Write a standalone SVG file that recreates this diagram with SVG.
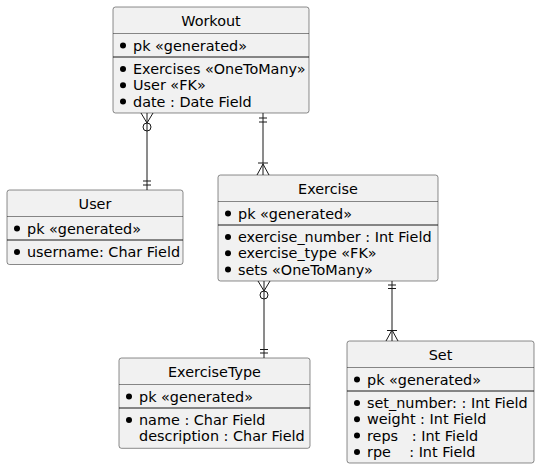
<svg xmlns="http://www.w3.org/2000/svg" width="540" height="470" viewBox="0 0 540 470">
<style>
.box{fill:#F1F1F1;stroke:#181818;stroke-width:0.5}
.tsep{stroke:#181818;stroke-width:0.5}
.sep{stroke:#181818;stroke-width:1}
.t{font-family:"DejaVu Sans",sans-serif;font-size:14.4px;font-weight:normal;fill:#000000}
.c{text-anchor:middle}
.b{fill:#000000}
.ln{stroke:#181818;stroke-width:1;fill:none}
</style>
<rect width="540" height="470" fill="#FFFFFF"/>
<g id="connectors">
  <!-- Workout -> User -->
  <path class="ln" d="M147,113 V190 M141,113 L147,123 L153,113 M143,181 H151 M143,185 H151"/>
  <circle class="ln" cx="147" cy="127" r="4" fill="#FFFFFF"/>
  <!-- Workout -> Exercise -->
  <path class="ln" d="M263,113 V175 M259,118 H267 M259,122 H267 M257,175 L263,164 L269,175 M258,163 H268"/>
  <!-- Exercise -> ExerciseType -->
  <path class="ln" d="M264,281 V358 M258,281 L264,291 L270,281 M260,349.5 H268 M260,353 H268"/>
  <circle class="ln" cx="264" cy="295" r="4" fill="#FFFFFF"/>
  <!-- Exercise -> Set -->
  <path class="ln" d="M392,281 V341 M388,285 H396 M388,288.5 H396 M386,341 L392,330 L398,341 M387,330.5 H397"/>
</g>
<g id="Workout">
  <rect class="box" x="113" y="7" width="196" height="106" rx="2.5"/>
  <line class="tsep" x1="113" y1="33.5" x2="309" y2="33.5"/>
  <line class="sep" x1="113" y1="57" x2="309" y2="57"/>
  <text class="t c" x="211" y="26">Workout</text>
  <circle class="b" cx="123" cy="45.5" r="3"/>
  <text class="t" x="133" y="50.5">pk «generated»</text>
  <circle class="b" cx="123" cy="69" r="3"/>
  <text class="t" x="133" y="74">Exercises «OneToMany»</text>
  <circle class="b" cx="123" cy="85.3" r="3"/>
  <text class="t" x="133" y="90.3">User «FK»</text>
  <circle class="b" cx="123" cy="101.6" r="3"/>
  <text class="t" x="133" y="106.6">date : Date Field</text>
</g>
<g id="User">
  <rect class="box" x="7" y="190" width="176" height="74.5" rx="2.5"/>
  <line class="tsep" x1="7" y1="216.5" x2="183" y2="216.5"/>
  <line class="sep" x1="7" y1="240" x2="183" y2="240"/>
  <text class="t c" x="95" y="209">User</text>
  <circle class="b" cx="17" cy="228.5" r="3"/>
  <text class="t" x="27" y="233.5">pk «generated»</text>
  <circle class="b" cx="17" cy="252" r="3"/>
  <text class="t" x="27" y="257">username: Char Field</text>
</g>
<g id="Exercise">
  <rect class="box" x="218" y="175" width="220" height="106" rx="2.5"/>
  <line class="tsep" x1="218" y1="201.5" x2="438" y2="201.5"/>
  <line class="sep" x1="218" y1="225" x2="438" y2="225"/>
  <text class="t c" x="328" y="194">Exercise</text>
  <circle class="b" cx="228" cy="213.5" r="3"/>
  <text class="t" x="238" y="218.5">pk «generated»</text>
  <circle class="b" cx="228" cy="237" r="3"/>
  <text class="t" x="238" y="242">exercise_number : Int Field</text>
  <circle class="b" cx="228" cy="253.3" r="3"/>
  <text class="t" x="238" y="258.3">exercise_type «FK»</text>
  <circle class="b" cx="228" cy="269.6" r="3"/>
  <text class="t" x="238" y="274.6">sets «OneToMany»</text>
</g>
<g id="ExerciseType">
  <rect class="box" x="119" y="358" width="191" height="90.3" rx="2.5"/>
  <line class="tsep" x1="119" y1="384.5" x2="310" y2="384.5"/>
  <line class="sep" x1="119" y1="408" x2="310" y2="408"/>
  <text class="t c" x="214.5" y="377">ExerciseType</text>
  <circle class="b" cx="129" cy="396.5" r="3"/>
  <text class="t" x="139" y="401.5">pk «generated»</text>
  <circle class="b" cx="129" cy="420" r="3"/>
  <text class="t" x="139" y="425">name : Char Field</text>
  <text class="t" x="139" y="441.3">description : Char Field</text>
</g>
<g id="Set">
  <rect class="box" x="347" y="341" width="187" height="122" rx="2.5"/>
  <line class="tsep" x1="347" y1="367.5" x2="534" y2="367.5"/>
  <line class="sep" x1="347" y1="391" x2="534" y2="391"/>
  <text class="t c" x="440.5" y="360">Set</text>
  <circle class="b" cx="357" cy="379.5" r="3"/>
  <text class="t" x="367" y="384.5">pk «generated»</text>
  <circle class="b" cx="357" cy="403" r="3"/>
  <text class="t" x="367" y="408">set_number: : Int Field</text>
  <circle class="b" cx="357" cy="419.3" r="3"/>
  <text class="t" x="367" y="424.3">weight : Int Field</text>
  <circle class="b" cx="357" cy="435.6" r="3"/>
  <text class="t" x="367" y="440.6" xml:space="preserve">reps   : Int Field</text>
  <circle class="b" cx="357" cy="451.9" r="3"/>
  <text class="t" x="367" y="456.9" xml:space="preserve">rpe    : Int Field</text>
</g>
</svg>
